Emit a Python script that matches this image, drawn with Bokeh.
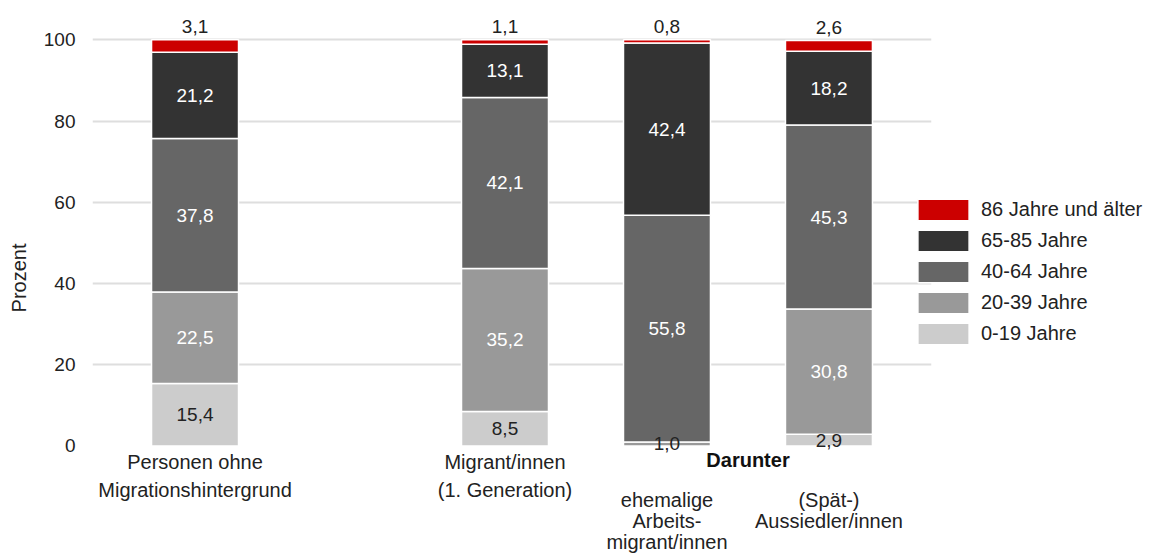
from bokeh.plotting import figure
from bokeh.models import (ColumnDataSource, FactorRange, Range1d, FixedTicker,
                          Legend, LegendItem)
from bokeh.core.properties import value
from bokeh.embed import file_html
from bokeh.resources import INLINE

# ---------------- data ----------------
group_of = ["G1", "G2", "G2", "G2"]
categories = ["Personen ohne Migrationshintergrund",
              "Migrant/innen (1. Generation)",
              "ehemalige Arbeitsmigrant/innen",
              "(Spät-)Aussiedler/innen"]
tick_lines = [["Personen ohne", "Migrationshintergrund"],
              ["Migrant/innen", "(1. Generation)"],
              ["ehemalige", "Arbeits-", "migrant/innen"],
              ["(Spät-)", "Aussiedler/innen"]]
age_groups = ["0-19 Jahre", "20-39 Jahre", "40-64 Jahre", "65-85 Jahre",
              "86 Jahre und älter"]
v_0_19 = [15.4, 8.5, 0.0, 2.9]
v_20_39 = [22.5, 35.2, 1.0, 30.8]
v_40_64 = [37.8, 42.1, 55.8, 45.3]
v_65_85 = [21.2, 13.1, 42.4, 18.2]
v_86_plus = [3.1, 1.1, 0.8, 2.6]
y_ticks = [0, 20, 40, 60, 80, 100]
subgroup_title = "Darunter"

# ---------------- style ----------------
FONT = "Liberation Sans"
FS_NUM = "19px"
FS_TXT = "20px"
DARK = "#222222"
GROUP_PAD = 0.9136
PAD = 0.133
colors = ["#cccccc", "#999999", "#666666", "#333333", "#cc0000"]
series = [v_0_19, v_20_39, v_40_64, v_65_85, v_86_plus]
keys = ["s0", "s1", "s2", "s3", "s4"]

x = list(zip(group_of, categories))
data = dict(x=x)
for k, s in zip(keys, series):
    data[k] = s
src = ColumnDataSource(data)

p = figure(x_range=FactorRange(*x, group_padding=GROUP_PAD, range_padding=PAD,
                               range_padding_units="absolute"),
           y_range=Range1d(-26.96, 109.67),
           frame_width=839, frame_height=555,
           output_backend="svg", toolbar_location=None,
           min_border_left=92, min_border_right=225, min_border_top=0,
           min_border_bottom=0)
p.outline_line_color = None
p.xaxis.visible = False
p.xgrid.grid_line_color = None
p.ygrid.ticker = FixedTicker(ticks=[t for t in y_ticks if t > 0])
p.ygrid.grid_line_color = "#dedede"
p.ygrid.grid_line_width = 2

yax = p.yaxis[0]
yax.ticker = FixedTicker(ticks=y_ticks)
yax.axis_line_color = None
yax.major_tick_line_color = None
yax.minor_tick_line_color = None
yax.major_label_standoff = 11
yax.major_label_text_font = FONT
yax.major_label_text_font_size = FS_NUM
yax.major_label_text_color = DARK
yax.axis_label = "Prozent"
yax.axis_label_text_font = FONT
yax.axis_label_text_font_size = FS_TXT
yax.axis_label_text_font_style = "normal"
yax.axis_label_text_color = DARK
yax.axis_label_standoff = 11

rs = p.vbar_stack(keys, x="x", width=0.537, fill_color=colors,
                  line_color="white", line_width=1.5, source=src)

# value labels
in_x, in_y, in_t, in_c = [], [], [], []
top_x, top_y, top_t = [], [], []
for i in range(len(categories)):
    base = 0.0
    for j, s in enumerate(series):
        v = s[i]
        if v > 0:
            txt = f"{v:.1f}".replace(".", ",")
            if j == len(series) - 1:
                top_x.append(x[i]); top_y.append(base + v); top_t.append(txt)
            else:
                in_x.append(x[i]); in_y.append(base + v / 2); in_t.append(txt)
                in_c.append(DARK if (j == 0 or v < 5) else "white")
        base += v

p.text(x="x", y="y", text="t", text_color="c",
       source=ColumnDataSource(dict(x=in_x, y=in_y, t=in_t, c=in_c)),
       text_align="center", text_baseline="middle",
       text_font=value(FONT), text_font_size=FS_NUM)
p.text(x="x", y="y", text="t",
       source=ColumnDataSource(dict(x=top_x, y=top_y, t=top_t)),
       text_align="center", text_baseline="middle", y_offset=-13,
       text_color=DARK, text_font=value(FONT), text_font_size=FS_NUM)

# category labels (drawn below the zero line)
starts = [16.5, 16.5, 54.5, 54.5]
pitches = [28, 28, 21, 21]
cx, cy, ct, co = [], [], [], []
for i, lines in enumerate(tick_lines):
    for k, line in enumerate(lines):
        cx.append(x[i]); cy.append(0); ct.append(line)
        co.append(starts[i] + k * pitches[i])
p.text(x="x", y="y", text="t", y_offset="o",
       source=ColumnDataSource(dict(x=cx, y=cy, t=ct, o=co)),
       text_align="center", text_baseline="middle",
       text_color=DARK, text_font=value(FONT), text_font_size=FS_TXT)
p.text(x=[x[2]], y=[0], text=[subgroup_title], x_offset=81, y_offset=14.5,
       text_align="center", text_baseline="middle", text_color="#111111",
       text_font=value(FONT), text_font_size=FS_TXT, text_font_style="bold")

items = [LegendItem(label=age_groups[j], renderers=[rs[j]])
         for j in reversed(range(len(age_groups)))]
legend = Legend(items=items, location=(-20, 208), glyph_width=64,
                glyph_height=27, label_height=27, spacing=4, label_standoff=6,
                padding=0, margin=0, border_line_color=None,
                background_fill_alpha=0,
                label_text_font=FONT, label_text_font_size=FS_TXT,
                label_text_color=DARK)
p.add_layout(legend, "right")

open("out.html", "w").write(file_html(p, INLINE))
